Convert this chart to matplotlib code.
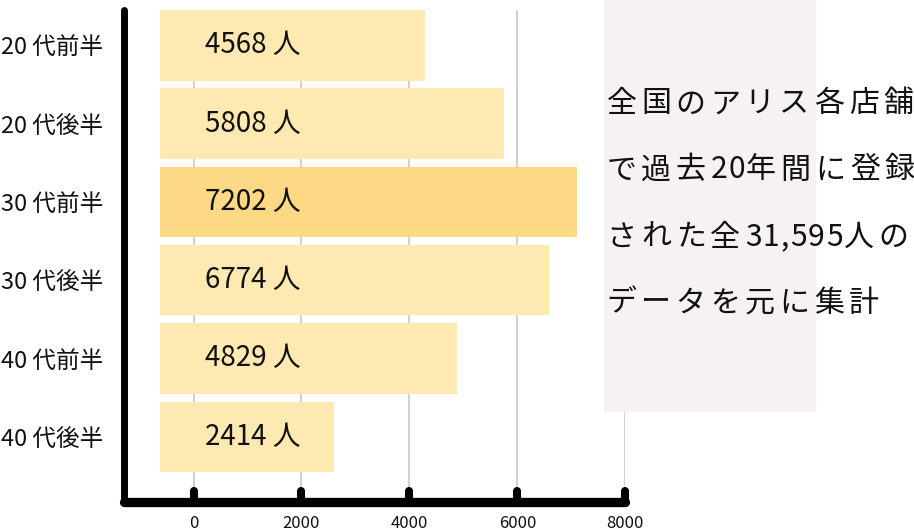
import matplotlib
matplotlib.use('Agg')
import matplotlib.pyplot as plt
from matplotlib.patches import Rectangle
from matplotlib.transforms import blended_transform_factory
from matplotlib.font_manager import findfont, FontProperties
from matplotlib.ft2font import FT2Font
import numpy as np

# ---- data ----
categories = ["20 代前半", "20 代後半", "30 代前半", "30 代後半", "40 代前半", "40 代後半"]
counts = [4568, 5808, 7202, 6774, 4829, 2414]          # label values
bar_ends = [4293, 5746, 7103, 6584, 4880, 2600]        # bar ends as drawn in the picture
bar_start = -628
highlight_index = 2
xticks = [0, 2000, 4000, 6000, 8000]
note_lines = ["全国のアリス各店舗", "で過去20年間に登録", "された全31,595人の", "データを元に集計"]

JP = 'Noto Sans CJK JP'
plt.rcParams['font.family'] = [JP, 'DejaVu Sans']

W, H = 914, 531
DPI = 100
fig = plt.figure(figsize=(W / DPI, H / DPI), dpi=DPI)
fig.patch.set_facecolor('white')

ax_left, ax_right = 123.7, 625.4
ax_top, ax_bottom = 9.5, 502.0
ax = fig.add_axes([ax_left / W, (H - ax_bottom) / H,
                   (ax_right - ax_left) / W, (ax_bottom - ax_top) / H])

y = np.arange(len(categories))
widths = np.array(bar_ends) - bar_start
light, strong = '#FEE9B2', '#FDD985'
colors = [strong if i == highlight_index else light for i in y]
ax.barh(y, widths, left=bar_start, height=0.9, color=colors, zorder=2)

ax.set_xlim(-1293, 8000)
ax.set_ylim(5.833, -0.458)
ax.set_yticks(y)
ax.set_yticklabels(categories, fontsize=17, color='#111111')
ax.set_xticks(xticks)
ax.set_xticklabels([str(v) for v in xticks], fontsize=12, color='#111111')
ax.tick_params(axis='both', length=0)
ax.tick_params(axis='y', pad=15)
ax.tick_params(axis='x', pad=9)
ax.grid(axis='x', color='#c8c8c8', linewidth=1.2, zorder=1)
ax.grid(axis='y', visible=False)
ax.set_axisbelow(True)
for s in ax.spines.values():
    s.set_visible(False)

# custom thick spines with round caps
ax.plot([0, 0], [0, 1], transform=ax.transAxes, color='black', lw=5.0,
        solid_capstyle='round', clip_on=False, zorder=6)
ax.plot([0, 1], [0, 0], transform=ax.transAxes, color='black', lw=6.7,
        solid_capstyle='round', clip_on=False, zorder=6)
bt = blended_transform_factory(ax.transData, ax.transAxes)
tick_h = 11 / (ax_bottom - ax_top)
for xt in xticks:
    ax.plot([xt, xt], [0, tick_h], transform=bt, color='black', lw=5.8,
            solid_capstyle='round', clip_on=False, zorder=6)

# bar labels
for i, c in enumerate(counts):
    ax.text(213, i, f"{c} 人", va='center', ha='left', fontsize=20,
            color='#111111', zorder=3)

# note box
fig.add_artist(Rectangle((604 / W, 1 - 410.7 / H), (815 - 604) / W, 410.7 / H,
                         transform=fig.transFigure, color='#F5F2F1', zorder=3))

# note text with letter spacing (per-character placement using font advances)
note_fs = 21.6
font = FT2Font(findfont(FontProperties(family=JP)))
font.set_size(note_fs, DPI)


def advance(ch):
    g = font.load_char(ord(ch))
    return g.linearHoriAdvance / 65536.0


line_y = [104, 170, 237, 303]
track_fw, track_hw = 4.6, 1.2
for ly, line in zip(line_y, note_lines):
    x = 606.5
    for ch in line:
        fig.text(x / W, 1 - ly / H, ch, fontsize=note_fs, color='#111111',
                 va='center', ha='left', zorder=4)
        x += advance(ch) + (track_fw if ord(ch) > 0x2E80 else track_hw)

fig.savefig('out.png', dpi=DPI)
